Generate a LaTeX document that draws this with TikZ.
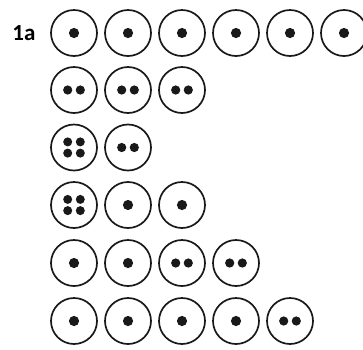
\documentclass[tikz,border=0pt]{standalone}
\usepackage{fontspec}
\setmainfont{Carlito}
\newfontfamily\lblfont{Carlito}
\begin{document}
\begin{tikzpicture}[x=1pt,y=-1pt,
  ring/.style={circle,draw=black!90,line width=1.7pt,minimum size=46pt,inner sep=0pt},
  dotc/.style={fill=black!90}]
\useasboundingbox (0,0) rectangle (363,349);
\node[anchor=base,inner sep=0pt] (lbl) at (24,40) {\lblfont\bfseries\fontsize{23pt}{25pt}\selectfont 1a};
% row 1
\foreach \i in {1,...,6}{\node[ring] (a\i) at ({20+54*\i},33) {}; \fill[dotc] (a\i) circle (5.1);}
% row 2
\foreach \i in {1,...,3}{\node[ring] (b\i) at ({20+54*\i},90) {};
  \fill[dotc] ([xshift=-6.3pt]b\i.center) circle (4.6); \fill[dotc] ([xshift=6.3pt]b\i.center) circle (4.6);}
% row 3
\node[ring] (c1) at (74,147.5) {};
\node[ring] (c2) at (128,147.5) {};
\foreach \dx in {-6.3,6.3}{\foreach \dy in {-5.6,5.6}{\fill[dotc] ([xshift=\dx pt,yshift=\dy pt]c1.center) circle (4.5);}}
\fill[dotc] ([xshift=-6.3pt]c2.center) circle (4.6); \fill[dotc] ([xshift=6.3pt]c2.center) circle (4.6);
% row 4
\node[ring] (d1) at (74,205) {};
\node[ring] (d2) at (128,205) {};
\node[ring] (d3) at (182,205) {};
\foreach \dx in {-6.3,6.3}{\foreach \dy in {-5.6,5.6}{\fill[dotc] ([xshift=\dx pt,yshift=\dy pt]d1.center) circle (4.5);}}
\fill[dotc] (d2) circle (5.1); \fill[dotc] (d3) circle (5.1);
% row 5
\foreach \i in {1,...,4}{\node[ring] (e\i) at ({20+54*\i},263) {};}
\fill[dotc] (e1) circle (5.1); \fill[dotc] (e2) circle (5.1);
\foreach \n in {e3,e4}{\fill[dotc] ([xshift=-6.3pt]\n.center) circle (4.6); \fill[dotc] ([xshift=6.3pt]\n.center) circle (4.6);}
% row 6
\foreach \i in {1,...,5}{\node[ring] (f\i) at ({20+54*\i},321) {};}
\foreach \n in {f1,f2,f3,f4}{\fill[dotc] (\n) circle (5.1);}
\fill[dotc] ([xshift=-6.3pt]f5.center) circle (4.6); \fill[dotc] ([xshift=6.3pt]f5.center) circle (4.6);
\end{tikzpicture}
\end{document}
